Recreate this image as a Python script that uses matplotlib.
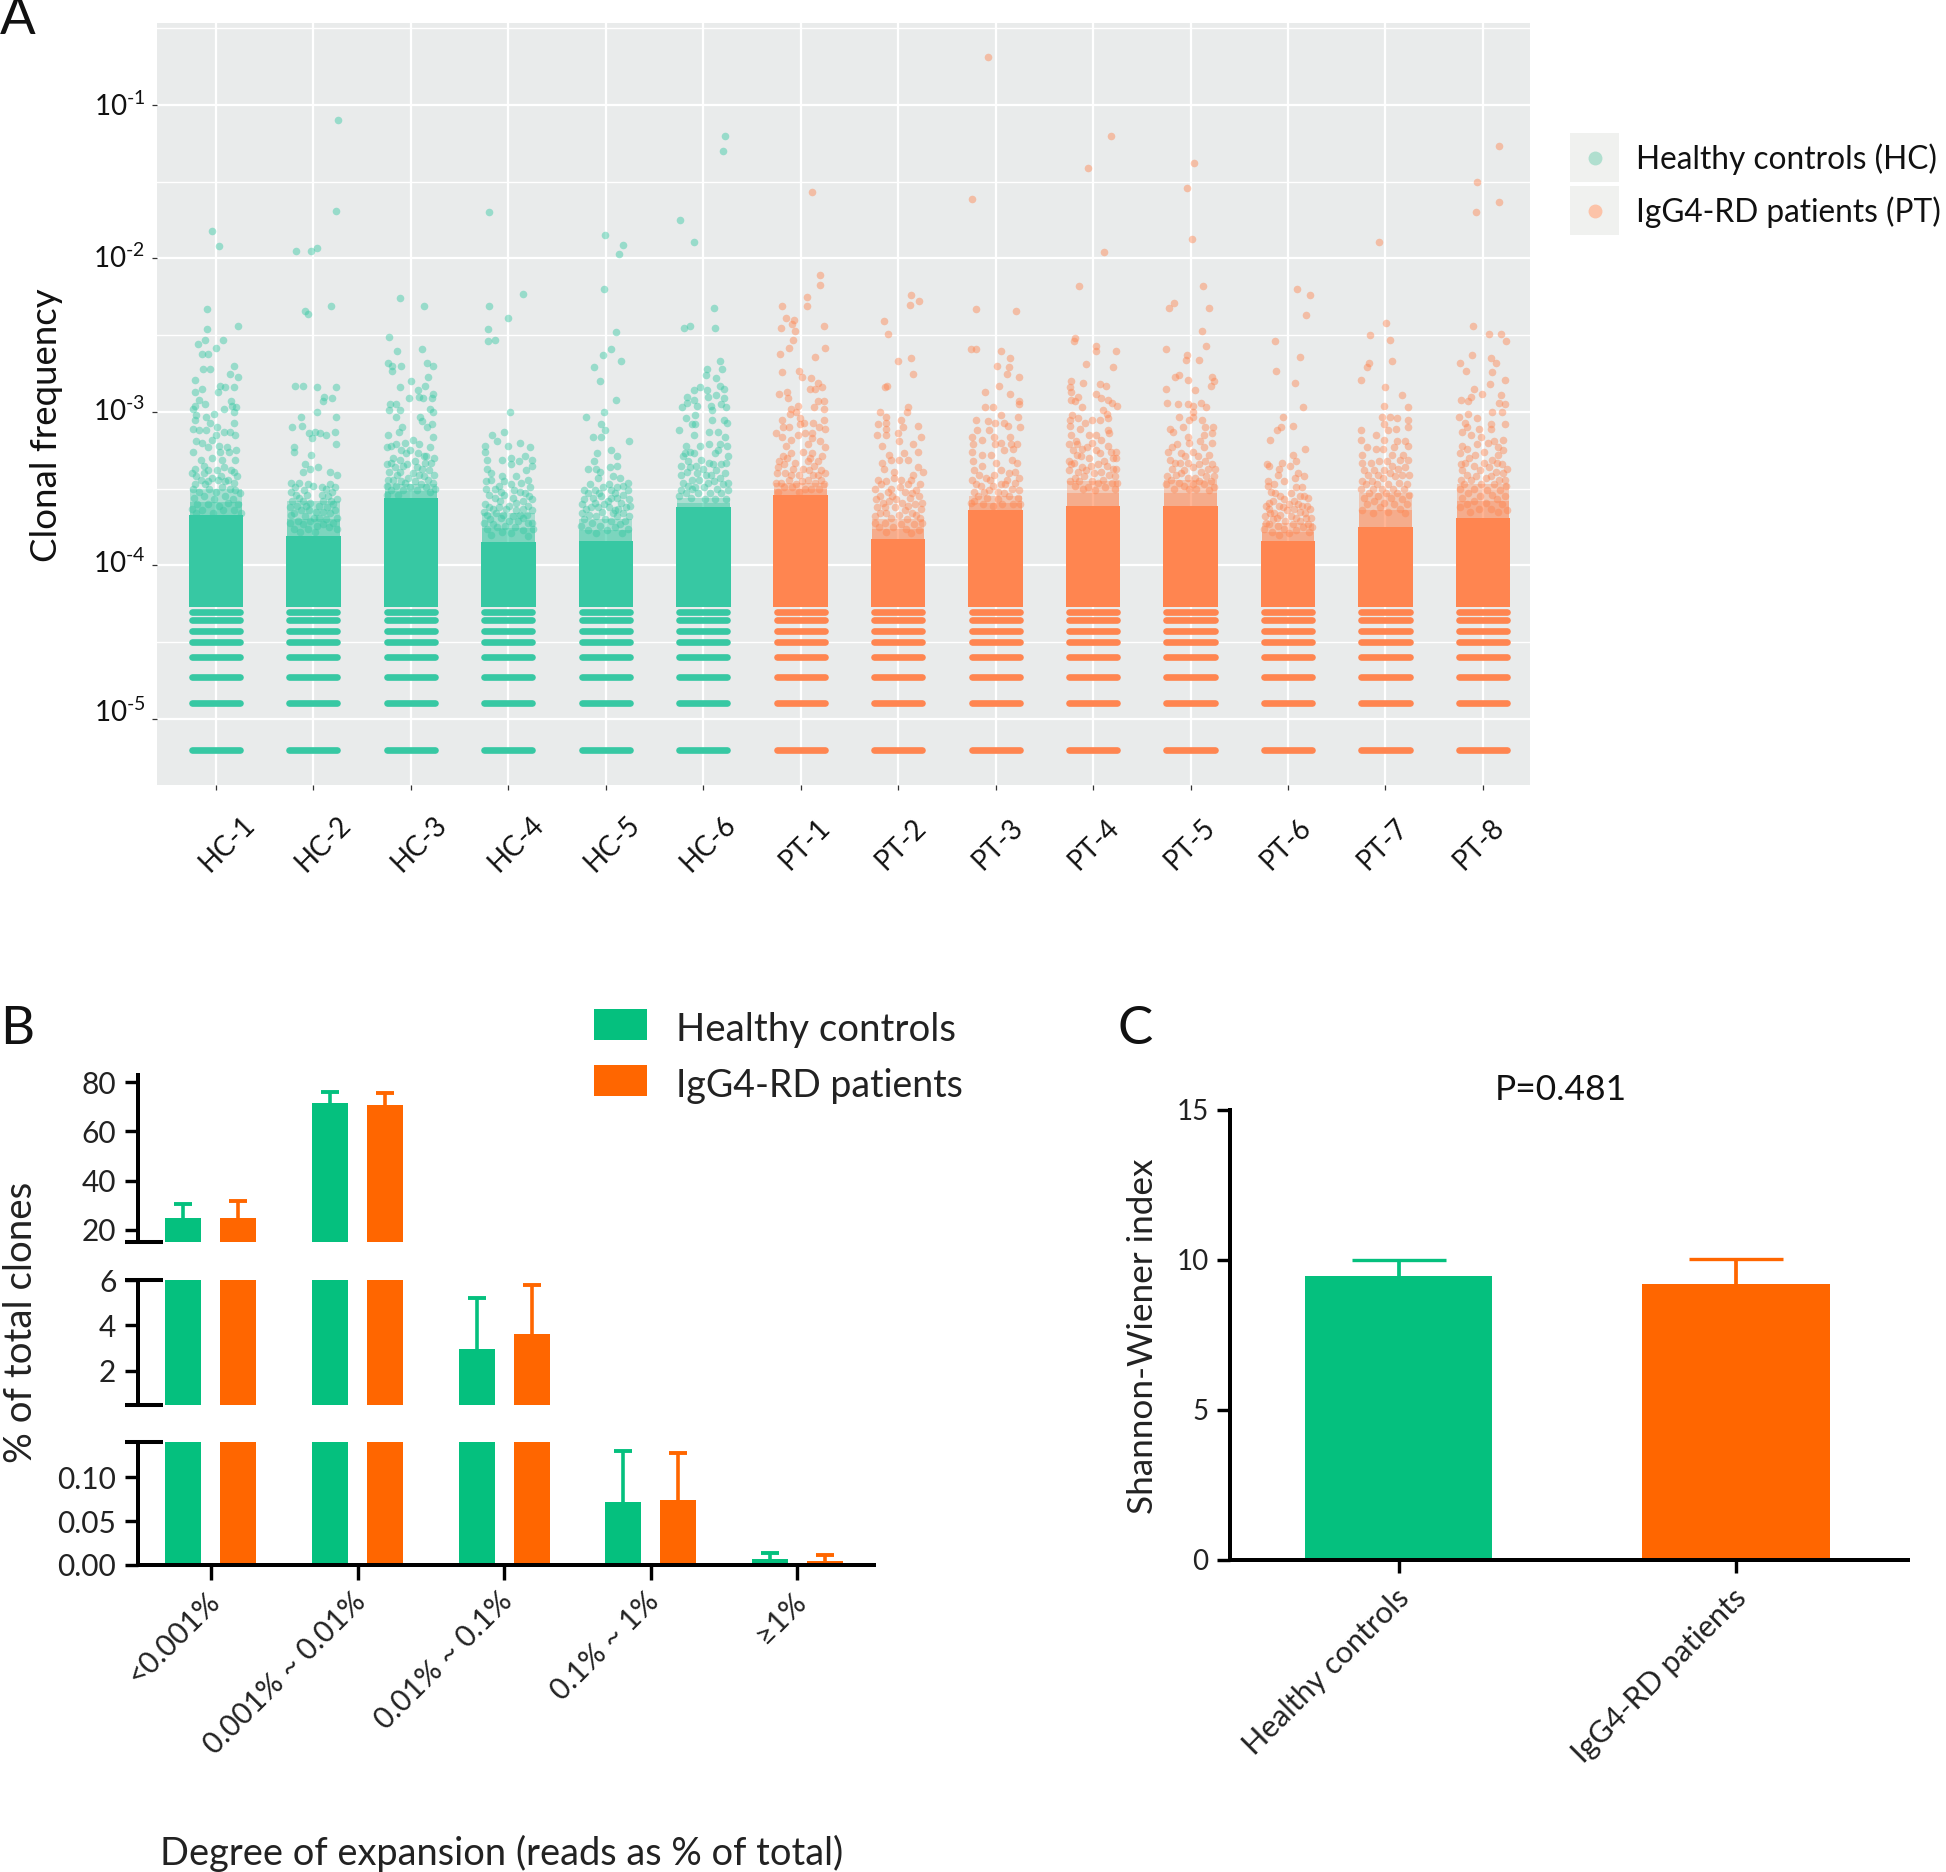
import numpy as np
import matplotlib
matplotlib.use('Agg')
import matplotlib.pyplot as plt
from matplotlib.patches import Rectangle
from matplotlib.transforms import ScaledTranslation

plt.rcParams['font.family'] = ['Lato', 'DejaVu Sans']
plt.rcParams['mathtext.fontset'] = 'custom'
plt.rcParams['mathtext.rm'] = 'Lato'
plt.rcParams['mathtext.default'] = 'regular'

W, H = 1946, 1872

GREEN_A = '#37C8A3'
ORANGE_A = '#FF8550'
GREEN = '#05C07E'
ORANGE = '#FF6600'
PANEL = '#E9EBEB'
INK = '#111111'

samples = ['HC-1', 'HC-2', 'HC-3', 'HC-4', 'HC-5', 'HC-6',
           'PT-1', 'PT-2', 'PT-3', 'PT-4', 'PT-5', 'PT-6', 'PT-7', 'PT-8']

# clone counts collapse to these levels at the bottom of every sample
read_levels = [6.3e-6, 1.27e-5, 1.88e-5, 2.52e-5, 3.17e-5, 3.77e-5, 4.4e-5, 5.0e-5]
blob_bottom = 5.4e-5
# log10 frequency where the cloud of dots becomes solid / nearly continuous
dense_top = [-3.67, -3.81, -3.56, -3.85, -3.84, -3.62,
             -3.54, -3.83, -3.64, -3.61, -3.61, -3.84, -3.75, -3.69]
cloud_top = [-3.50, -3.58, -3.47, -3.66, -3.70, -3.56,
             -3.46, -3.70, -3.55, -3.45, -3.44, -3.72, -3.53, -3.47]

# (jitter, log10 frequency)
hc1 = [(-.04,-1.82),(.03,-1.92),(-.09,-2.33),(-.09,-2.46),(.23,-2.44),(-.18,-2.56),(-.11,-2.53),(.07,-2.53),
       (0,-2.58),(-.14,-2.62),(-.08,-2.62),(-.13,-2.72),(-.06,-2.72),(.18,-2.70),(.14,-2.75),(.23,-2.77),
       (-.22,-2.79),(-.22,-2.87),(-.14,-2.85),(.04,-2.83),(.09,-2.84),(.18,-2.84),(.02,-2.87),(-.17,-2.92),
       (-.21,-2.96),(-.24,-2.98),(-.11,-2.95),(.15,-2.93),(.16,-2.96),(.21,-2.97),(.08,-2.98),(.18,-3.0),
       (-.2,-3.02),(-.02,-3.01),(-.1,-3.03),(-.06,-3.07),(.19,-3.07),(-.22,-3.05),(-.24,-3.11),(-.17,-3.12),
       (-.1,-3.12),(.01,-3.1),(.08,-3.13),(.14,-3.13),(.2,-3.15),(0,-3.15),(-.2,-3.19),(-.14,-3.2),
       (-.04,-3.18),(-.08,-3.23),(.03,-3.22),(.11,-3.23),(-.24,-3.26),(.21,-3.25),(.04,-3.26),(.13,-3.26),
       (-.15,-3.31),(-.04,-3.3),(.06,-3.31),(.2,-3.31),(-.12,-3.35),(-.22,-3.37),(.08,-3.36),(-.08,-3.38),
       (.18,-3.39),(-.08,-3.45),(.02,-3.44),(.18,-3.46),(-.22,-3.47),(.09,-3.45),
       (-.2,-3.42),(-.15,-3.44),(-.11,-3.47),(-.04,-3.43),(.05,-3.42),(.12,-3.44),(.22,-3.42),(-.24,-3.5),
       (-.17,-3.52),(-.07,-3.5),(0,-3.52),(.06,-3.49),(.14,-3.5),(.2,-3.51),(.25,-3.53),(-.23,-3.56),
       (-.12,-3.55),(-.02,-3.57),(.09,-3.55),(.17,-3.57),(-.19,-3.6),(-.08,-3.6),(.03,-3.61),(.12,-3.59),
       (.23,-3.6),(-.25,-3.63),(-.14,-3.64),(.07,-3.64),(.19,-3.64),(.26,-3.66),(-.2,-3.66),(-.03,-3.66),
       (-.12,-3.4),(.15,-3.38),(-.25,-3.4),(.01,-3.38)]
hc2 = [(.25,-1.1),(.23,-1.69),(-.18,-1.95),(-.02,-1.95),(.04,-1.93),(.18,-2.31),(-.09,-2.34),(-.06,-2.36),(-.19,-2.83),
       (-.11,-2.83),(.04,-2.84),(.23,-2.84),(.11,-2.9),(.1,-2.93),(.19,-2.91),(.04,-3.0),(-.13,-3.03),
       (.23,-3.03),(-.22,-3.1),(-.12,-3.09),(-.05,-3.14),(.02,-3.13),(.07,-3.14),(.13,-3.15),(.22,-3.13),
       (-.01,-3.17),(.23,-3.21),(-.2,-3.23),(-.2,-3.26),(-.02,-3.28),(-.09,-3.34),(.05,-3.36),(-.04,-3.37),
       (-.11,-3.39),(.17,-3.39),(.24,-3.41),(-.23,-3.46),(-.15,-3.46),(-.06,-3.47),(0,-3.48),(.09,-3.49),
       (.17,-3.47),(-.23,-3.52),(.19,-3.52),(-.15,-3.56),(.18,-3.58),(-.23,-3.67),(.01,-3.69),(-.05,-3.64),
       (.22,-3.64),
       (-.19,-3.49),(-.1,-3.51),(.13,-3.5),(.22,-3.49),(-.18,-3.54),(-.07,-3.54),(.09,-3.54),(.15,-3.55),
       (-.22,-3.58),(-.11,-3.58),(-.03,-3.59),(.1,-3.58),(.24,-3.57),(-.17,-3.61),(-.08,-3.61),(.06,-3.61),
       (.14,-3.62),(.2,-3.6),(-.24,-3.62),(-.13,-3.64),(.03,-3.65),(.1,-3.65),(.17,-3.66),(-.2,-3.66),
       (-.09,-3.68),(.06,-3.69),(.13,-3.7),(.24,-3.69),(-.24,-3.72),(-.16,-3.71),(-.04,-3.71),(.2,-3.72),
       (-.11,-3.73),(.04,-3.74),(.1,-3.73),(.16,-3.75),(-.2,-3.76),(-.06,-3.76),(.24,-3.76),(-.14,-3.78),(.02,-3.78)]
hc3 = [(-.11,-2.26),(.13,-2.31),(-.22,-2.51),(-.14,-2.6),(.11,-2.59),(-.23,-2.68),(-.19,-2.7),(-.19,-2.73),
       (-.1,-2.7),(.17,-2.68),(.23,-2.7),(.18,-2.77),(0,-2.8),(-.11,-2.84),(.15,-2.83),(.07,-2.86),
       (.08,-2.9),(.12,-2.91),(-.02,-2.91),(.23,-2.88),(.22,-2.91),(-.21,-2.95),(-.15,-2.95),(-.22,-2.99),
       (-.11,-2.99),(.2,-2.98),(.23,-3.0),(-.15,-3.03),(.09,-3.03),(.11,-3.06),(.22,-3.08),(.17,-3.1),
       (-.09,-3.1),(-.12,-3.13),(-.23,-3.15),(.23,-3.16),(.02,-3.18),(-.06,-3.2),(.08,-3.21),(-.15,-3.21),
       (-.25,-3.23),(-.2,-3.22),(.2,-3.23),(-.1,-3.25),(-.01,-3.25),(.13,-3.29),(-.25,-3.34),(-.11,-3.31),
       (.04,-3.32),(.21,-3.33),(-.04,-3.34),(-.16,-3.36),(.11,-3.37),(-.11,-3.39),(.02,-3.4),(-.23,-3.44),
       (.18,-3.44),(-.06,-3.46),
       (-.18,-3.3),(-.05,-3.27),(.07,-3.27),(.16,-3.29),(.24,-3.3),(-.2,-3.33),(.15,-3.33),(-.08,-3.35),
       (.06,-3.36),(.19,-3.38),(-.22,-3.39),(-.14,-3.41),(-.03,-3.43),(.08,-3.41),(.13,-3.42),(.24,-3.41),
       (-.18,-3.44),(-.1,-3.45),(.04,-3.45),(.23,-3.46),(-.25,-3.48),(-.15,-3.48),(-.01,-3.49),(.1,-3.47),
       (.16,-3.49),(.25,-3.5),(-.2,-3.51),(-.08,-3.51),(.06,-3.51),(.2,-3.52),(-.25,-3.54),(-.13,-3.54)]
hc4 = [(-.2,-1.7),(.15,-2.23),(-.2,-2.31),(0,-2.39),(-.21,-2.46),(-.21,-2.54),(-.14,-2.53),(.02,-3.0),
       (-.04,-3.13),(-.17,-3.15),(-.12,-3.19),(-.24,-3.22),(.12,-3.2),(0,-3.22),(.22,-3.23),(-.24,-3.26),
       (.03,-3.3),(.17,-3.29),(-.22,-3.31),(-.07,-3.31),(.11,-3.32),(.24,-3.31),(.03,-3.34),(.24,-3.35),
       (-.22,-3.37),(.18,-3.38),(-.18,-3.4),(-.06,-3.42),(.08,-3.42),(-.23,-3.45),(-.04,-3.45),(.2,-3.44),
       (.03,-3.47),(-.1,-3.48),(.22,-3.49),(-.23,-3.5),(-.14,-3.5),(-.04,-3.54),(.12,-3.52),(.21,-3.55),
       (.05,-3.56),(-.14,-3.56),(-.24,-3.6),(.08,-3.59),(-.16,-3.63),(.15,-3.63),(-.05,-3.67),(-.22,-3.67),
       (.24,-3.72),(-.12,-3.75),(.01,-3.71),(.15,-3.69),
       (-.18,-3.44),(.13,-3.46),(.06,-3.51),(-.08,-3.52),(.17,-3.53),(-.2,-3.54),(.24,-3.57),(-.09,-3.58),
       (.15,-3.58),(.01,-3.61),(-.2,-3.62),(-.1,-3.62),(.2,-3.61),(.08,-3.64),(-.02,-3.63),(.24,-3.64),
       (-.25,-3.65),(-.13,-3.66),(.12,-3.67),(.19,-3.67),(.05,-3.68),(-.19,-3.7),(-.08,-3.69),(-.25,-3.72),
       (.1,-3.71),(.2,-3.72),(-.16,-3.73),(-.03,-3.74),(.07,-3.75),(.25,-3.76),(-.22,-3.76),(.15,-3.77),
       (-.07,-3.78),(.03,-3.79),(-.18,-3.8),(.2,-3.81)]
hc5 = [(-.01,-1.85),(.18,-1.91),(.14,-1.97),(-.02,-2.2),(.1,-2.48),(.05,-2.59),(-.03,-2.63),(.16,-2.67),
       (-.12,-2.71),(-.06,-2.8),(.1,-2.92),(-.02,-3.0),(-.2,-3.03),(-.05,-3.08),(-.01,-3.12),(-.13,-3.16),
       (-.05,-3.16),(.24,-3.19),(.05,-3.25),(-.09,-3.27),(.11,-3.29),(-.12,-3.32),(.04,-3.36),(.11,-3.35),
       (-.18,-3.37),(-.1,-3.37),(-.06,-3.39),(-.08,-3.43),(.07,-3.42),(.15,-3.43),(.23,-3.46),(.03,-3.47),
       (-.22,-3.51),(-.11,-3.51),(.05,-3.51),(.23,-3.51),(-.22,-3.57),(-.05,-3.55),(.24,-3.57),(.12,-3.56),
       (.02,-3.58),(-.2,-3.63),(.21,-3.62),(-.08,-3.62),(.09,-3.64),
       (-.16,-3.47),(.18,-3.48),(-.03,-3.49),(.11,-3.49),(-.18,-3.53),(-.07,-3.53),(.09,-3.53),(.18,-3.54),
       (-.13,-3.56),(.05,-3.56),(-.24,-3.6),(-.11,-3.59),(-.02,-3.6),(.16,-3.59),(.25,-3.61),(-.15,-3.62),
       (.03,-3.62),(.13,-3.63),(-.24,-3.66),(-.04,-3.65),(.07,-3.66),(.18,-3.66),(-.17,-3.67),(-.1,-3.68),
       (.12,-3.68),(.24,-3.68),(-.22,-3.7),(-.01,-3.7),(.05,-3.71),(.2,-3.71),(-.14,-3.72),(.15,-3.73),
       (-.25,-3.74),(-.06,-3.74),(.09,-3.75),(.23,-3.76),(-.18,-3.77),(.01,-3.77),(-.1,-3.79),(.17,-3.79)]
hc6 = [(.22,-1.2),(.2,-1.3),(-.24,-1.75),(-.09,-1.89),(.11,-2.32),(-.2,-2.45),(-.14,-2.44),(.12,-2.45),
       (.17,-2.67),(.04,-2.72),(.19,-2.72),(.03,-2.76),(.13,-2.78),(-.03,-2.84),(.17,-2.83),(.21,-2.85),
       (-.09,-2.86),(-.17,-2.9),(.04,-2.86),(.13,-2.89),(.05,-2.9),(.21,-2.91),(-.09,-2.92),(-.17,-2.94),
       (-.22,-2.97),(-.06,-2.96),(.08,-2.96),(.18,-2.95),(.23,-2.97),(.09,-2.99),(-.08,-3.02),(-.18,-3.04),
       (.09,-3.05),(.21,-3.05),(.24,-3.07),(-.08,-3.08),(-.12,-3.08),(-.25,-3.12),(.06,-3.13),(.15,-3.13),
       (-.1,-3.15),(.22,-3.16),(.06,-3.21),(-.18,-3.22),(-.03,-3.22),(.17,-3.21),(.24,-3.22),(-.14,-3.26),
       (.15,-3.25),(-.21,-3.29),(.25,-3.29),(-.02,-3.31),(.06,-3.33),(-.23,-3.35),(.18,-3.34),(-.14,-3.36),
       (0,-3.37),(-.23,-3.41),(.08,-3.41),(.17,-3.43),(-.12,-3.44),(-.04,-3.44),(-.21,-3.46),(.25,-3.46),
       (-.23,-3.51),(-.12,-3.5),(.01,-3.49),
       (-.19,-3.27),(-.09,-3.27),(.12,-3.27),(-.16,-3.32),(.1,-3.34),(.23,-3.33),(-.07,-3.35),(.13,-3.38),
       (-.17,-3.39),(-.06,-3.4),(.03,-3.41),(.22,-3.4),(.11,-3.45),(.05,-3.46),(-.16,-3.48),(.2,-3.47),
       (-.08,-3.49),(.14,-3.5),(.25,-3.51),(-.18,-3.53),(-.05,-3.53),(.07,-3.53),(.18,-3.53),(-.25,-3.55),
       (-.13,-3.56),(.02,-3.57),(.12,-3.57),(.23,-3.57)]
pt1 = [(.12,-1.57),(.2,-2.11),(.2,-2.17),(.06,-2.25),(.06,-2.31),(-.19,-2.31),(-.15,-2.39),(-.07,-2.4),
       (-.09,-2.43),(-.2,-2.45),(-.06,-2.47),(.24,-2.44),(-.08,-2.53),(-.12,-2.58),(.25,-2.58),(-.21,-2.62),
       (.15,-2.64),(-.19,-2.74),(-.02,-2.73),(.01,-2.77),(.11,-2.78),(.18,-2.81),(.22,-2.84),(.1,-2.85),
       (.15,-2.85),(-.22,-2.88),(-.14,-2.87),(-.13,-2.91),(.24,-2.93),(.18,-2.93),(-.03,-2.96),(-.1,-2.98),
       (.14,-2.97),(.24,-2.98),(-.11,-3.01),(-.05,-3.0),(-.19,-3.05),(-.01,-3.04),(.24,-3.05),(.03,-3.07),
       (.13,-3.07),(-.18,-3.1),(-.12,-3.1),(-.01,-3.08),(.19,-3.1),(.25,-3.11),(-.25,-3.14),(-.19,-3.16),
       (-.03,-3.15),(.04,-3.14),(.12,-3.14),(-.1,-3.18),(.12,-3.17),(.2,-3.19),(-.15,-3.22),(.07,-3.21),
       (.25,-3.23),(-.18,-3.29),(-.1,-3.27),(.02,-3.26),(.12,-3.27),(.22,-3.29),(-.22,-3.32),(-.06,-3.33),
       (.07,-3.32),(.18,-3.32),(-.23,-3.36),(.02,-3.37),(.21,-3.38),(-.1,-3.41),(.13,-3.41),(-.2,-3.46),
       (.01,-3.45),(.21,-3.44),
       (-.14,-3.3),(.1,-3.3),(-.17,-3.34),(.14,-3.35),(-.08,-3.37),(.08,-3.38),(-.24,-3.4),(-.16,-3.4),
       (-.02,-3.41),(.18,-3.41),(.25,-3.4),(-.12,-3.44),(.07,-3.44),(.15,-3.46),(-.25,-3.46),(-.05,-3.47),
       (.24,-3.47),(-.17,-3.49),(-.09,-3.49),(.04,-3.5),(.11,-3.5),(.19,-3.5),(-.23,-3.52),(-.02,-3.52)]
pt2 = [(.13,-2.24),(.12,-2.3),(.21,-2.28),(-.15,-2.41),(-.1,-2.49),(0,-2.67),(.13,-2.65),(.15,-2.75),
       (-.14,-2.84),(-.11,-2.83),(.1,-2.97),(-.19,-3.0),(.09,-3.0),(-.12,-3.03),(-.21,-3.08),(-.13,-3.07),
       (.03,-3.05),(.05,-3.1),(.2,-3.09),(-.13,-3.11),(-.22,-3.15),(-.13,-3.15),(0,-3.14),(.23,-3.16),
       (.01,-3.19),(.15,-3.21),(-.17,-3.22),(.2,-3.26),(.06,-3.27),(-.09,-3.28),(-.07,-3.31),(.01,-3.31),
       (.1,-3.31),(-.17,-3.33),(-.15,-3.37),(.2,-3.36),(.25,-3.39),(-.04,-3.39),(.15,-3.41),(-.04,-3.43),
       (.13,-3.44),(-.21,-3.44),(-.13,-3.45),(.03,-3.44),(-.24,-3.5),(-.07,-3.5),(.18,-3.51),(.07,-3.52),
       (-.23,-3.57),(-.02,-3.57),(.24,-3.59),(-.14,-3.62),(.1,-3.61),(-.24,-3.68),(.22,-3.69),
       (-.18,-3.47),(.1,-3.47),(.22,-3.47),(-.1,-3.52),(.02,-3.49),(.14,-3.53),(-.19,-3.55),(-.06,-3.55),
       (.12,-3.56),(.21,-3.55),(-.16,-3.59),(-.09,-3.58),(.04,-3.59),(.17,-3.6),(-.22,-3.62),(-.03,-3.62),
       (.23,-3.63),(.07,-3.64),(-.12,-3.66),(.14,-3.66),(-.19,-3.66),(.01,-3.67),(.18,-3.67),(-.07,-3.69),
       (-.24,-3.72),(.09,-3.7),(.24,-3.72),(-.14,-3.72),(.03,-3.73),(.16,-3.73),(-.2,-3.75),(-.05,-3.75),
       (.08,-3.76),(.21,-3.77),(-.12,-3.78),(.13,-3.79)]
pt3 = [(-.08,-.69),(-.24,-1.61),(-.2,-2.33),(.21,-2.34),(-.25,-2.59),(-.2,-2.59),(.05,-2.6),(.15,-2.65),
       (.01,-2.7),(.14,-2.71),(.12,-2.75),(.24,-2.77),(.03,-2.83),(-.11,-2.87),(.15,-2.88),(.24,-2.93),
       (.24,-2.95),(-.11,-2.97),(-.03,-2.97),(.06,-3.02),(-.2,-3.05),(.23,-3.03),(-.08,-3.06),(-.01,-3.07),
       (.09,-3.07),(.13,-3.09),(.25,-3.1),(-.19,-3.12),(-.07,-3.12),(-.24,-3.16),(-.02,-3.16),(.15,-3.16),
       (-.14,-3.18),(-.23,-3.21),(-.01,-3.21),(.05,-3.2),(.16,-3.21),(.22,-3.21),(-.24,-3.26),(-.14,-3.28),
       (.09,-3.25),(.18,-3.24),(-.05,-3.28),(-.23,-3.32),(0,-3.33),(.22,-3.33),(.17,-3.31),(-.14,-3.35),
       (-.22,-3.38),(-.02,-3.41),(.2,-3.39),(-.24,-3.44),(-.1,-3.43),(.24,-3.43),(-.15,-3.48),(.1,-3.47),
       (-.22,-3.52),(.24,-3.51),(.02,-3.52),(-.25,-3.59),
       (-.17,-3.41),(.06,-3.38),(.14,-3.4),(-.06,-3.44),(.12,-3.44),(.2,-3.46),(-.2,-3.47),(-.03,-3.48),
       (.05,-3.47),(.17,-3.5),(-.12,-3.52),(-.07,-3.51),(.09,-3.53),(-.18,-3.55),(.14,-3.55),(.23,-3.56),
       (-.09,-3.56),(.02,-3.57),(-.22,-3.58),(.07,-3.6),(.18,-3.6),(-.13,-3.6),(-.03,-3.61),(.25,-3.6)]
pt4 = [(.18,-1.2),(-.05,-1.41),(.11,-1.96),(-.14,-2.18),(-.19,-2.52),(-.2,-2.54),(.03,-2.57),(.03,-2.6),
       (.23,-2.6),(-.07,-2.69),(.2,-2.71),(-.23,-2.8),(-.1,-2.81),(.07,-2.82),(.13,-2.83),(-.24,-2.84),
       (-.23,-2.87),(.03,-2.88),(-.15,-2.9),(.08,-2.91),(-.23,-2.92),(-.19,-2.93),(.15,-2.92),(.19,-2.94),
       (.25,-2.96),(-.11,-2.97),(.1,-2.99),(.14,-3.01),(-.22,-3.02),(-.15,-3.04),(.15,-3.04),(-.24,-3.05),
       (-.08,-3.07),(-.01,-3.05),(.07,-3.05),(-.24,-3.09),(-.13,-3.11),(.15,-3.12),(-.04,-3.15),(.03,-3.15),
       (.16,-3.14),(-.23,-3.15),(-.25,-3.21),(-.16,-3.21),(-.01,-3.2),(.15,-3.22),(-.21,-3.25),(-.11,-3.24),
       (.03,-3.25),(.23,-3.26),(-.25,-3.32),(-.04,-3.3),(.11,-3.32),(.2,-3.3),(-.11,-3.36),(-.02,-3.35),
       (.2,-3.37),(-.23,-3.34),(-.19,-3.43),(-.01,-3.45),
       (-.18,-3.19),(.08,-3.18),(-.06,-3.23),(.18,-3.26),(-.17,-3.28),(.07,-3.27),(-.12,-3.29),(.24,-3.3),
       (-.2,-3.33),(.05,-3.34),(.14,-3.35),(-.07,-3.38),(.08,-3.39),(.23,-3.37),(-.25,-3.38),(-.15,-3.39),
       (.01,-3.4),(.16,-3.41),(.22,-3.42),(-.09,-3.42),(.1,-3.44),(-.24,-3.45),(-.14,-3.45),(.05,-3.46),
       (.19,-3.46),(.25,-3.46),(-.19,-3.48),(-.05,-3.49),(.12,-3.49),(-.1,-3.5),(.22,-3.5),(.02,-3.51)]
pt5 = [(.04,-1.38),(-.04,-1.54),(.01,-1.87),(.13,-2.18),(-.17,-2.29),(-.22,-2.32),(.19,-2.32),(.12,-2.47),
       (-.25,-2.59),(.16,-2.57),(-.04,-2.63),(-.05,-2.66),(.09,-2.66),(-.16,-2.77),(-.12,-2.76),(-.03,-2.79),
       (.22,-2.77),(.24,-2.8),(.21,-2.83),(-.25,-2.85),(.05,-2.86),(-.24,-2.94),(-.13,-2.95),(-.03,-2.95),
       (.11,-2.94),(.02,-2.96),(.16,-2.97),(.02,-3.0),(-.12,-3.03),(.03,-3.03),(-.02,-3.05),(.12,-3.05),
       (-.08,-3.1),(-.21,-3.11),(.15,-3.1),(.23,-3.1),(-.18,-3.13),(.14,-3.15),(-.03,-3.16),(.22,-3.14),
       (-.19,-3.23),(-.02,-3.2),(.1,-3.19),(.22,-3.2),(-.1,-3.27),(.02,-3.26),(.19,-3.28),(-.16,-3.33),
       (-.03,-3.33),(.09,-3.34),(.22,-3.34),(-.24,-3.42),(-.1,-3.4),(.05,-3.43),(.24,-3.42),
       (-.23,-3.26),(-.14,-3.21),(.14,-3.23),(-.06,-3.29),(.08,-3.29),(-.21,-3.31),(-.11,-3.33),(.15,-3.32),
       (.02,-3.36),(-.19,-3.37),(-.07,-3.38),(.18,-3.37),(.25,-3.37),(.11,-3.39),(-.15,-3.41),(.16,-3.42),
       (-.03,-3.43),(-.2,-3.44),(.09,-3.45),(.21,-3.45),(-.12,-3.46),(.03,-3.47),(-.25,-3.47),(.14,-3.47),
       (-.07,-3.48),(.24,-3.49),(-.17,-3.5),(.06,-3.5),(-.02,-3.5),(.19,-3.51)]
pt6 = [(.09,-2.2),(.23,-2.24),(.18,-2.37),(-.13,-2.54),(.12,-2.64),(-.12,-2.73),(.07,-2.81),(.15,-2.97),
       (-.05,-3.03),(.05,-3.09),(-.07,-3.1),(-.11,-3.12),(-.18,-3.18),(.17,-3.24),(.05,-3.28),(.08,-3.32),
       (-.22,-3.34),(-.19,-3.35),(-.06,-3.33),(.02,-3.35),(-.09,-3.37),(-.1,-3.41),(.1,-3.4),(.16,-3.42),
       (.07,-3.43),(-.21,-3.45),(-.14,-3.47),(-.04,-3.45),(-.21,-3.48),(.08,-3.49),(.14,-3.49),(-.13,-3.53),
       (.03,-3.53),(.16,-3.55),(.2,-3.56),(-.04,-3.57),(.06,-3.58),(-.19,-3.59),(-.23,-3.61),(-.09,-3.61),
       (.1,-3.6),(.19,-3.61),(-.14,-3.66),(-.01,-3.64),(-.23,-3.72),(-.11,-3.69),(.08,-3.69),(.18,-3.69),
       (.25,-3.75),
       (-.17,-3.52),(-.08,-3.55),(.12,-3.55),(-.15,-3.58),(.01,-3.6),(.14,-3.61),(-.2,-3.63),(-.05,-3.62),
       (.06,-3.63),(.23,-3.63),(-.18,-3.66),(.12,-3.65),(.17,-3.66),(-.08,-3.67),(.03,-3.68),(-.24,-3.68),
       (.24,-3.69),(-.15,-3.7),(-.03,-3.71),(.12,-3.71),(-.19,-3.73),(.05,-3.73),(.2,-3.73),(-.1,-3.74),
       (.15,-3.75),(-.25,-3.76),(-.04,-3.76),(.08,-3.77),(-.16,-3.78),(.22,-3.78),(.01,-3.79),(-.09,-3.8)]
pt7 = [(-.07,-1.89),(.01,-2.42),(-.16,-2.5),(.05,-2.53),(.07,-2.67),(-.17,-2.68),(-.19,-2.71),(-.25,-2.79),
       (0,-2.84),(.17,-2.89),(-.02,-2.96),(.23,-2.97),(-.04,-3.03),(.05,-3.03),(.12,-3.04),(.23,-3.05),
       (-.01,-3.08),(.23,-3.1),(-.25,-3.12),(.11,-3.11),(-.1,-3.15),(.03,-3.12),(-.25,-3.18),(-.02,-3.18),
       (.12,-3.19),(.2,-3.19),(-.19,-3.23),(-.1,-3.24),(-.03,-3.24),(.09,-3.23),(.23,-3.22),(-.24,-3.28),
       (.07,-3.28),(.18,-3.28),(-.24,-3.33),(-.07,-3.32),(.15,-3.31),(.23,-3.31),(-.22,-3.38),(-.12,-3.38),
       (-.02,-3.38),(.2,-3.36),(.07,-3.35),(-.24,-3.45),(-.14,-3.45),(-.03,-3.43),(.1,-3.42),(.22,-3.47),
       (-.15,-3.33),(.02,-3.32),(.13,-3.37),(-.18,-3.41),(-.08,-3.41),(.05,-3.4),(.17,-3.41),(.24,-3.41),
       (-.2,-3.47),(-.09,-3.47),(.03,-3.47),(.14,-3.46),(-.25,-3.5),(-.13,-3.5),(-.04,-3.5),(.08,-3.5),
       (.19,-3.5),(-.17,-3.53),(.01,-3.53),(.12,-3.53),(.24,-3.54),(-.08,-3.55),(-.22,-3.56),(.06,-3.56),
       (.17,-3.57),(-.12,-3.58),(-.01,-3.59),(.22,-3.6),(-.19,-3.6),(.09,-3.6),(-.06,-3.62),(.15,-3.63),
       (-.24,-3.64),(.03,-3.65),(-.13,-3.66),(.2,-3.66)]
pt8 = [(.16,-1.27),(-.06,-1.5),(.16,-1.63),(-.07,-1.7),(-.1,-2.44),(.06,-2.49),(.19,-2.49),(.24,-2.54),
       (-.11,-2.63),(-.24,-2.68),(.08,-2.65),(.13,-2.68),(-.17,-2.73),(.09,-2.74),(.23,-2.79),(.07,-2.82),
       (-.09,-2.85),(-.01,-2.88),(.19,-2.89),(-.12,-2.9),(-.22,-2.92),(-.15,-2.93),(.16,-2.94),(.23,-2.95),
       (.09,-3.0),(.2,-3.0),(-.15,-3.01),(-.25,-3.03),(-.06,-3.04),(-.18,-3.07),(.08,-3.08),(.23,-3.08),
       (-.16,-3.1),(-.04,-3.11),(-.21,-3.13),(.08,-3.11),(-.12,-3.15),(-.02,-3.16),(.21,-3.18),(-.21,-3.22),
       (-.06,-3.21),(.11,-3.19),(.21,-3.25),(.01,-3.26),(-.14,-3.3),(.09,-3.31),(-.23,-3.34),(.2,-3.34),
       (-.09,-3.35),(.25,-3.37),(.06,-3.36),(-.21,-3.38),(-.23,-3.44),(-.07,-3.42),(.23,-3.44),(.03,-3.43),
       (-.16,-3.24),(.05,-3.2),(.15,-3.23),(-.24,-3.27),(-.08,-3.28),(.15,-3.28),(-.18,-3.33),(.01,-3.33),
       (.14,-3.33),(-.03,-3.38),(.13,-3.39),(.21,-3.4),(-.16,-3.41),(.08,-3.42),(-.12,-3.44),(.16,-3.44),
       (-.19,-3.47),(-.02,-3.47),(.11,-3.47),(.24,-3.48),(-.24,-3.5),(-.09,-3.5),(.04,-3.51),(.18,-3.51),
       (-.15,-3.53),(.09,-3.54),(-.03,-3.55),(.23,-3.55),(-.21,-3.56),(.14,-3.57),(-.09,-3.58),(.03,-3.59),
       (-.16,-3.6),(.2,-3.6),(-.24,-3.62),(.08,-3.63),(-.04,-3.63),(.15,-3.65),(-.13,-3.65),(.25,-3.64)]
sample_points = [hc1, hc2, hc3, hc4, hc5, hc6, pt1, pt2, pt3, pt4, pt5, pt6, pt7, pt8]

# panel B
bins = ['<0.001%', '0.001% ~ 0.01%', '0.01% ~ 0.1%', '0.1% ~ 1%', '\u22651%']
hc_pct = [24.7, 71.8, 2.95, 0.072, 0.007]
hc_pct_top = [30.5, 76.1, 5.2, 0.13, 0.014]
pt_pct = [24.8, 70.8, 3.63, 0.074, 0.004]
pt_pct_top = [31.5, 75.6, 5.8, 0.128, 0.011]

# panel C
groups = ['Healthy controls', 'IgG4-RD patients']
shannon = [9.46, 9.2]
shannon_top = [10.0, 10.04]


def px_axes(left, top, right, bottom):
    return fig.add_axes([left / W, 1 - bottom / H, (right - left) / W, (bottom - top) / H])


def offset_px(dx, dy):
    return ScaledTranslation(dx / 100, dy / 100, fig.dpi_scale_trans)


def tick_style(ax, length=13 * .72, width=3.4 * .72):
    for s in ['top', 'right']:
        ax.spines[s].set_visible(False)
    for s in ['left', 'bottom']:
        ax.spines[s].set_linewidth(4 * .72)
    ax.tick_params(length=length, width=width, color='k')


fig = plt.figure(figsize=(W / 100, H / 100), dpi=100)
fig.patch.set_facecolor('white')

# ---- A
ax = px_axes(157, 23, 1530, 785)
ax.set_facecolor(PANEL)
ax.set_yscale('log')
ax.set_xlim(0.395, 14.483)
ax.set_ylim(10 ** -5.43, 10 ** -0.466)
for s in ax.spines.values():
    s.set_visible(False)
ax.set_axisbelow(True)
ax.set_xticks(range(1, 15))
ax.set_yticks([1e-5, 1e-4, 1e-3, 1e-2, 1e-1])
ax.set_yticks([10 ** e for e in (-4.5, -3.5, -2.5, -1.5, -.5)], minor=True)
ax.set_yticklabels(['10$^{\\mathregular{\\text{-}%d}}$' % e for e in (5, 4, 3, 2, 1)], fontsize=20, color=INK)
ax.tick_params(axis='y', which='minor', length=0)
ax.tick_params(axis='y', which='major', length=3.4, width=.9, pad=5, color='#333333')
ax.tick_params(axis='x', length=3.4, width=.9, pad=39, color='#333333')
ax.grid(True, which='major', color='white', lw=1.6)
ax.grid(True, which='minor', axis='y', color='white', lw=1.0)
ax.set_xticklabels(samples, fontsize=20, color=INK, rotation=45, ha='center', va='center',
                   rotation_mode='anchor')
for i, lbl in enumerate(ax.get_xticklabels()):
    lbl.set_transform(lbl.get_transform() + offset_px(11 - i * 1.15, 0))
for lbl, up in zip(ax.get_yticklabels(), (9, 5, 3, 2.5, 1.2)):
    lbl.set_transform(lbl.get_transform() + offset_px(0, up))

for i, name in enumerate(samples):
    col = GREEN_A if name.startswith('HC') else ORANGE_A
    xc = i + 1
    mid = (dense_top[i] + cloud_top[i]) / 2
    ax.fill_between([xc - .28, xc + .28], blob_bottom, 10 ** dense_top[i], color=col, lw=0, zorder=2)
    ax.fill_between([xc - .27, xc + .27], 10 ** dense_top[i], 10 ** cloud_top[i], color=col, alpha=.35, lw=0, zorder=2)
    ax.fill_between([xc - .27, xc + .27], 10 ** dense_top[i], 10 ** mid, color=col, alpha=.4, lw=0, zorder=2)
    for level in read_levels:
        ax.plot([xc - .247, xc + .247], [level, level], color=col, lw=4.8,
                solid_capstyle='round', zorder=3)
    pts = np.array(sample_points[i])
    ax.scatter(xc + pts[:, 0], 10.0 ** pts[:, 1], s=30, color=col, alpha=.45, lw=0, zorder=4)

fig.text(47 / W, 1 - 425 / H, 'Clonal frequency', rotation=90, ha='center', va='center', fontsize=26.4, color=INK)
fig.text(0, 1 - 20 / H, 'A', ha='left', va='center', fontsize=38, color=INK)

# legend A
key_ax = fig.add_axes([0, 0, 1, 1], zorder=-1)
key_ax.set_xlim(0, W)
key_ax.set_ylim(H, 0)
key_ax.axis('off')
for top, dot, txt in [(133, '#B0DFCF', 'Healthy controls (HC)'), (186, '#FCC3A8', 'IgG4-RD patients (PT)')]:
    key_ax.add_patch(Rectangle((1570, top), 49, 49, fc='#F0F1EF', ec='none'))
    key_ax.scatter([1594.5], [top + 24.5], s=100, color=dot, lw=0)
    key_ax.text(1636, top + 26, txt, ha='left', va='center', fontsize=22.8, color=INK)

# ---- B, three pieces of one broken axis
b_left, b_right = 137.6, 873.6
pieces = [(1075, 1242, 15, 83, [20, 40, 60, 80], ['20', '40', '60', '80']),
          (1280, 1405, 0.5, 6, [2, 4, 6], ['2', '4', '6']),
          (1442, 1565, 0, 0.14, [0, 0.05, 0.10], ['0.00', '0.05', '0.10'])]
x_bins = np.arange(5)
for top, bottom, lo, hi, ticks, labels in pieces:
    ab = px_axes(b_left, top, b_right, bottom)
    ab.patch.set_alpha(0)
    ab.set_xlim(-.5, 4.52)
    ab.set_ylim(lo, hi)
    tick_style(ab)
    ab.spines['bottom'].set_visible(lo == 0)
    ab.bar(x_bins - .1875, hc_pct, .245, color=GREEN)
    ab.bar(x_bins + .1875, pt_pct, .245, color=ORANGE)
    for xs, tops, col in [(x_bins - .1875, hc_pct_top, GREEN), (x_bins + .1875, pt_pct_top, ORANGE)]:
        vals = hc_pct if col == GREEN else pt_pct
        ab.vlines(xs, vals, tops, color=col, lw=2.6)
        ab.plot(xs, tops, ls='', marker='_', ms=13, mew=2.8, color=col)
    ab.set_yticks(ticks)
    ab.set_yticklabels(labels, fontsize=21.5, color='#222222')
    ab.tick_params(axis='y', pad=6)
    # end caps of each piece
    for v in (lo, hi):
        if v != 0 and not (lo == 15 and v == hi):
            ab.plot([-13 / (b_right - b_left), 25 / (b_right - b_left)], [v, v],
                    transform=ab.get_yaxis_transform(), color='k', lw=2.9, clip_on=False,
                    solid_capstyle='butt')
    if lo == 0:
        ab.set_xticks(x_bins)
        ab.set_xticklabels(bins, fontsize=21.5, color='#222222', rotation=45, ha='right', va='center',
                           rotation_mode='anchor')
        ab.tick_params(axis='x', pad=12, length=11)
        for lbl in ab.get_xticklabels():
            lbl.set_transform(lbl.get_transform() + offset_px(4, 0))
    else:
        ab.set_xticks([])

fig.text(21 / W, 1 - 1322 / H, '% of total clones', rotation=90, ha='center', va='center', fontsize=27.6, color='#222222')
fig.text(160 / W, 1 - 1853 / H, 'Degree of expansion (reads as % of total)', ha='left', va='center',
         fontsize=27.4, color='#222222')
fig.text(0, 1 - 1029 / H, 'B', ha='left', va='center', fontsize=38, color=INK)
for top, col, txt, size in [(1009, GREEN, 'Healthy controls', 27.6), (1065, ORANGE, 'IgG4-RD patients', 27)]:
    key_ax.add_patch(Rectangle((594, top), 53, 31, fc=col, ec='none'))
    key_ax.text(676, top + 21, txt, ha='left', va='center', fontsize=size, color='#222222')

# ---- C
ac = px_axes(1230, 1110, 1908, 1560)
ac.set_xlim(-.5, 1.51)
ac.set_ylim(0, 15)
tick_style(ac)
ac.bar([0, 1], shannon, .555, color=[GREEN, ORANGE])
for x, val, t, col in zip([0, 1], shannon, shannon_top, [GREEN, ORANGE]):
    ac.vlines(x, val, t, color=col, lw=2.7)
    ac.plot([x], [t], ls='', marker='_', ms=67, mew=2.4, color=col)
ac.set_yticks([0, 5, 10, 15])
ac.set_yticklabels(['0', '5', '10', '15'], fontsize=20, color='#222222')
ac.tick_params(axis='y', pad=6)
ac.set_xticks([0, 1])
ac.set_xticklabels(groups, fontsize=22, color='#222222', rotation=45, ha='right', va='center',
                   rotation_mode='anchor')
ac.tick_params(axis='x', pad=15)
for lbl in ac.get_xticklabels():
    lbl.set_transform(lbl.get_transform() + offset_px(6, 0))
fig.text(1143 / W, 1 - 1336 / H, 'Shannon-Wiener index', rotation=90, ha='center', va='center', fontsize=25.3, color='#222222')
fig.text(1561 / W, 1 - 1090 / H, 'P=0.481', ha='center', va='center', fontsize=25.5, color=INK)
fig.text(1117 / W, 1 - 1029 / H, 'C', ha='left', va='center', fontsize=38, color=INK)

fig.savefig('out.png', dpi=100)
